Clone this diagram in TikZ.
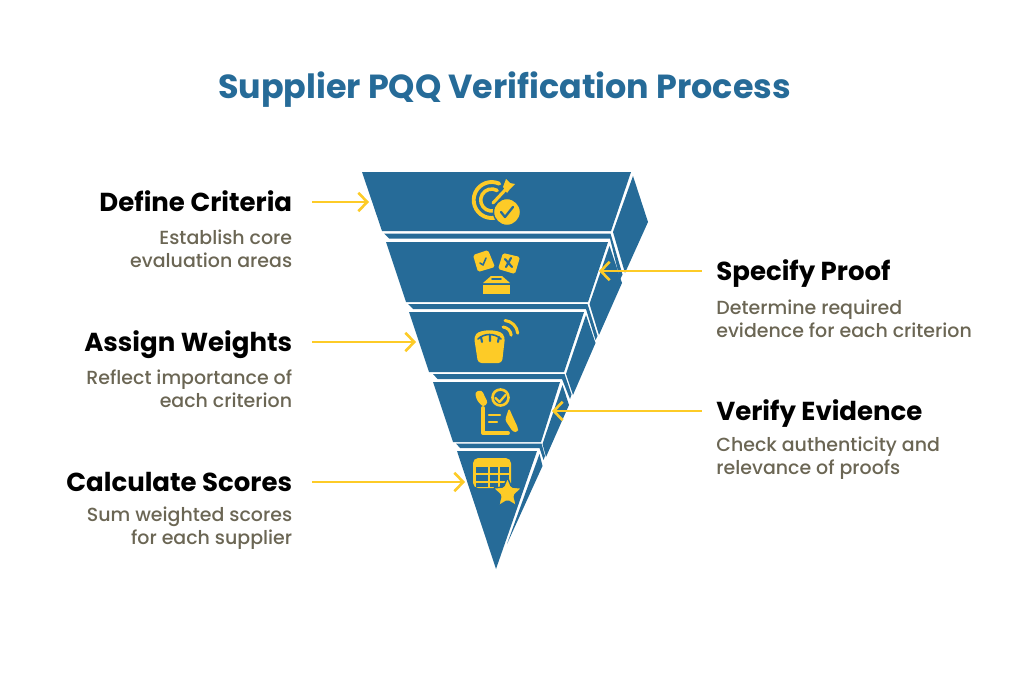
\documentclass[tikz,border=0pt]{standalone}
\usepackage{fontspec}
\usepackage{xcolor}
\setmainfont{Poppins}[UprightFont=*-Medium,BoldFont=*-Bold]
\usetikzlibrary{arrows.meta}
\definecolor{funnel}{HTML}{266B98}
\definecolor{mark}{HTML}{FDCB27}
\definecolor{note}{HTML}{6B6654}
\tikzset{
    slab/.style={fill=funnel},
    icon/.style={fill=mark},
    ring/.style={draw=mark,line width=2.2pt,line cap=round},
    fine/.style={draw=funnel,line width=0.9pt,line cap=round,line join=round},
    hand/.style={draw=mark,line width=2.2pt,line cap=round,line join=round},
    pointer/.style={draw=mark,line width=1.5pt,shorten <=11.3pt,-{Straight Barb[length=5pt,width=10.5pt,line width=1.5pt]}},
    headline/.style={inner sep=0pt,text=black,font=\fontsize{14.8}{16}\selectfont\bfseries,text height=10.5pt,text depth=0pt},
    notes/.style={inner sep=0pt,text=note,font=\fontsize{10.8}{13}\selectfont},
}
\begin{document}
\begin{tikzpicture}[x=0.02cm,y=-0.02cm]
    \useasboundingbox (0,0) rectangle (1024,676);
    \path (504.5,90) node [inner sep=0pt,text=funnel,font=\fontsize{19}{20}\selectfont\bfseries] (title) {Supplier PQQ Verification Process};

    % funnel
    \fill [slab] (362,172) -- (631,172) -- (611,231) -- (382,231) -- cycle;
    \fill [slab] (633,176) -- (648,222) -- (625,273) -- (613,232) -- cycle;
    \fill [slab] (384,233.5) -- (610.5,233.5) -- (622.5,274.5) -- (620,279.5) -- (610,238.5) -- (389,238.5) -- cycle;
    \fill [slab] (386,242) -- (608,242) -- (588,302) -- (406,302) -- cycle;
    \fill [slab] (609.5,246) -- (622,283) -- (599,335) -- (589.5,304) -- cycle;
    \fill [slab] (408,304) -- (587.5,304) -- (597.5,336) -- (595.5,340) -- (586,309) -- (413,309) -- cycle;
    \fill [slab] (409,312) -- (584,312) -- (564,372) -- (429,372) -- cycle;
    \fill [slab] (586,315) -- (595.5,343) -- (573,395) -- (566,374) -- cycle;
    \fill [slab] (433,374) -- (564.5,374) -- (571.5,394.5) -- (570,399) -- (562,379) -- (437.5,379) -- cycle;
    \fill [slab] (433,382) -- (560,382) -- (541,442) -- (453,442) -- cycle;
    \fill [slab] (562.5,385) -- (569,405) -- (546,457) -- (542.5,444) -- cycle;
    \fill [slab] (456,443.5) -- (541.5,443.5) -- (545,456) -- (543.5,460) -- (539.5,448) -- (460,448) -- cycle;
    \fill [slab] (457,451) -- (537,451) -- (496,569) -- cycle;
    \fill [slab] (539.5,454) -- (542.5,466) -- (507,544) -- cycle;

    % target icon
    \draw [ring] (499.3,183.7) arc (-65:-290:18);
    \draw [ring,line width=2pt] (497.2,190.5) arc (-60:-285:11);
    \draw [hand,line width=1.8pt] (493,203) -- (507,188);
    \fill [icon] (503,187) -- (506,179) -- (510,183) -- (515,184) -- (510,189) -- (507,193) -- cycle;
    \fill [icon,draw=funnel,line width=0.8pt] (507,212) circle (13.5);
    \draw [fine,line width=1.3pt] (501,212) -- (505,217) -- (513,207);

    % ballot icon
    \fill [icon,rounded corners=1pt] (473,255) -- (488,250) -- (495,267) -- (478,272) -- cycle;
    \fill [icon,rounded corners=1pt] (503,253) -- (520,257) -- (515,274) -- (498,269) -- cycle;
    \draw [fine] (480,263) -- (483,265) -- (486,258);
    \draw [fine,line width=1.2pt] (505,259) -- (512,267) (511,258) -- (506,267);
    \fill [icon] (483,283) -- (491,276) -- (502,276) -- (510,283) -- cycle;
    \fill [icon] (483,285) rectangle (510,294);
    \draw [fine] (492,279) -- (501,279);

    % scale icon
    \fill [icon,rounded corners=2pt] (474,337) .. controls (480,329) and (499,329) .. (505,337) -- (502,363) -- (478,363) -- cycle;
    \draw [fine] (478,339) .. controls (484,333) and (495,333) .. (501,339);
    \draw [fine,line width=1.2pt] (481,337) -- (482,342) (490,335) -- (490,341) (499,337) -- (498,342);
    \draw [hand,line width=1.7pt] (503,327) arc (-85:-5:9);
    \draw [hand,line width=1.7pt] (505,320.5) arc (-85:-5:14);

    % review icon
    \draw [hand,line width=1.5pt] (500.5,397.5) circle (8);
    \draw [hand,line width=1.3pt] (495.5,398) -- (499.5,402) -- (505.5,395);
    \draw [hand] (483,408) -- (483,433) -- (508,433);
    \draw [hand,line width=1.3pt] (489,415) -- (500,415) (489,422.3) -- (497,422.3);
    \fill [icon,rounded corners=1.5pt] (475,392) -- (481.7,390) -- (488,403) -- (483,407) -- (476.7,400) -- cycle;
    \fill [icon,rounded corners=1.5pt] (509,408) -- (512,415) -- (518,428) -- (518,432) -- (513,432) -- (505,420) -- cycle;

    % table icon
    \fill [icon,rounded corners=3pt] (473,458) rectangle (511,488);
    \foreach \cx/\cw in {476/12,490/8,500/9}
        \foreach \cy/\ch in {467/6,475/5.5,482.5/4.5}
            \fill [funnel] (\cx,\cy) rectangle ++(\cw,\ch);
    \fill [icon,draw=funnel,line width=0.8pt,line join=round,rounded corners=0.8pt]
        (507.5,477.5) -- (511.5,487) -- (522,488) -- (514,495.5) -- (516.5,506) -- (507.5,500.5) -- (498.5,506) -- (501,495.5) -- (493,488) -- (503.5,487) -- cycle;

    % left labels
    \path (292.5,202) node [headline,anchor=east] (define) {Define Criteria};
    \path (292.5,248.5) node [notes,anchor=east,align=right] (definenote) {Establish core\\evaluation areas};
    \path (292.5,342) node [headline,anchor=east] (assign) {Assign Weights};
    \path (292.5,388.5) node [notes,anchor=east,align=right] (assignnote) {Reflect importance of\\each criterion};
    \path (292.5,482) node [headline,anchor=east] (calc) {Calculate Scores};
    \path (292.5,528.5) node [notes,anchor=east,align=right] (calcnote) {Sum weighted scores\\for each supplier};

    % right labels
    \path (716,271) node [headline,anchor=west] (specify) {Specify Proof};
    \path (716,318.5) node [notes,anchor=west,align=left] (specifynote) {Determine required\\evidence for each criterion};
    \path (716,411) node [headline,anchor=west] (verify) {Verify Evidence};
    \path (716,458.5) node [notes,anchor=west,align=left] (verifynote) {Check authenticity and\\relevance of proofs};

    \coordinate (definetip) at (369,202);
    \coordinate (assigntip) at (416,342);
    \coordinate (calctip) at (465,482);
    \coordinate (specifytip) at (599,271);
    \coordinate (verifytip) at (552,411);
    \draw [pointer] (define) -- (definetip);
    \draw [pointer] (assign) -- (assigntip);
    \draw [pointer] (calc) -- (calctip);
    \draw [pointer,shorten <=8pt] (specify) -- (specifytip);
    \draw [pointer,shorten <=8pt] (verify) -- (verifytip);
\end{tikzpicture}
\end{document}
